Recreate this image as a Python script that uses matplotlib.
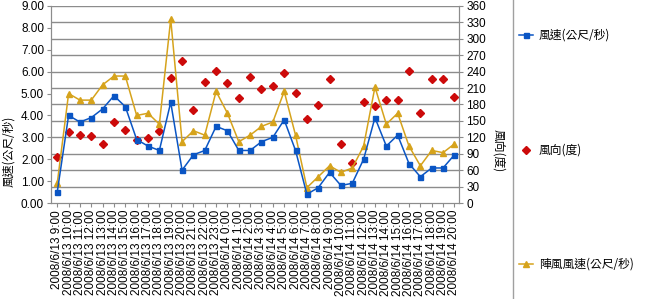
import matplotlib.pyplot as plt
from matplotlib.lines import Line2D

plt.rcParams['font.family'] = ['Liberation Sans', 'Noto Sans CJK TC', 'DejaVu Sans']

# hourly labels 2008/6/13 9:00 .. 2008/6/14 20:00
times = ["2008/6/13 %d:00" % h for h in range(9, 24)] + \
        ["2008/6/14 %d:00" % h for h in range(0, 21)]

# wind speed (m/s)
wind_speed = [0.5, 4.0, 3.7, 3.9, 4.3, 4.9, 4.4, 2.9, 2.6, 2.4,
              4.6, 1.5, 2.2, 2.4, 3.5, 3.3, 2.4, 2.4, 2.8, 3.0,
              3.8, 2.4, 0.4, 0.7, 1.4, 0.8, 0.9, 2.0, 3.9, 2.6,
              3.1, 1.8, 1.2, 1.6, 1.6, 2.2]
# wind direction (deg)
wind_dir = [84, 130, 125, 123, 108, 148, 133, 115, 118, 131,
            229, 259, 170, 222, 241, 220, 192, 231, 209, 213,
            238, 201, 154, 179, 227, 107, 73, 185, 177, 188,
            189, 241, 165, 227, 227, 193]
# gust speed (m/s)
gust_speed = [0.9, 5.0, 4.7, 4.7, 5.4, 5.8, 5.8, 4.0, 4.1, 3.6,
              8.4, 2.8, 3.3, 3.1, 5.1, 4.1, 2.8, 3.1, 3.5, 3.7,
              5.1, 3.1, 0.7, 1.2, 1.7, 1.4, 1.6, 2.6, 5.3, 3.6,
              4.1, 2.6, 1.7, 2.4, 2.3, 2.7]

blue = '#0a55c4'
gold = '#d6a31c'
red = '#cc0a0a'
grid_c = '#8c8c8c'

fig = plt.figure(figsize=(6.45, 2.99), dpi=100)
ax = fig.add_axes([51/645, 1-203/299, (459.5-51)/645, 197/299])
ax2 = ax.twinx()

x = list(range(len(times)))

ax.set_ylim(0, 9)
ax2.set_ylim(0, 360)
ax.set_xlim(-0.55, 35.45)

# gridlines follow right axis
for v in range(30, 361, 30):
    ax2.axhline(v, color=grid_c, lw=1.0, zorder=0)

ax2.plot(x, wind_dir, linestyle='none', marker='D', ms=3.6, color=red, zorder=3)
ax.plot(x, gust_speed, color=gold, lw=1.1, marker='^', ms=5, zorder=3)
ax.plot(x, wind_speed, color=blue, lw=1.1, marker='s', ms=3.6, zorder=4)
ax.set_zorder(ax2.get_zorder() + 1)
ax.patch.set_visible(False)

ax.set_yticks(range(0, 10))
ax.set_yticklabels(["%.2f" % v for v in range(0, 10)])
ax2.set_yticks(range(0, 361, 30))
ax.set_xticks(x)
ax.set_xticklabels(times, rotation=90, fontsize=8, va='top', ha='center')

for a in (ax, ax2):
    for s in a.spines.values():
        s.set_color(grid_c)
    a.spines['top'].set_visible(False)
    a.tick_params(colors=grid_c, labelcolor='black', labelsize=8.5, length=3, width=0.8)
ax.tick_params(axis='x', length=3, pad=2)
ax.tick_params(axis='y', pad=2)
ax2.tick_params(axis='y', pad=2)

fig.text(9/645, 1-151/299, '風速(公尺/秒)', rotation=90, ha='center', va='center', fontsize=8.5,
         family=['Noto Sans CJK TC', 'DejaVu Sans'])
fig.text(499/645, 1-151/299, '風向(度)', rotation=-90, ha='center', va='center', fontsize=8.5,
         family=['Noto Sans CJK TC', 'DejaVu Sans'])

# separator line and legend entries
fig.add_artist(Line2D([513/645, 513/645], [0, 1], color='#a0a0a0', lw=1))
entries = [(35, blue, 's', True, 3.6, '風速(公尺/秒)'),
           (150, red, 'D', False, 3.6, '風向(度)'),
           (264, gold, '^', True, 5, '陣風風速(公尺/秒)')]
for yy, c, m, has_line, ms, label in entries:
    yf = 1 - yy/299
    if has_line:
        fig.add_artist(Line2D([519/645, 533/645], [yf, yf], color=c, lw=1.1))
    fig.add_artist(Line2D([526/645], [yf], color=c, marker=m, ms=ms, linestyle='none'))
    fig.text(539/645, yf, label, ha='left', va='center', fontsize=8.5,
             family=['Noto Sans CJK TC', 'DejaVu Sans'])

fig.savefig('out.png', dpi=100)
